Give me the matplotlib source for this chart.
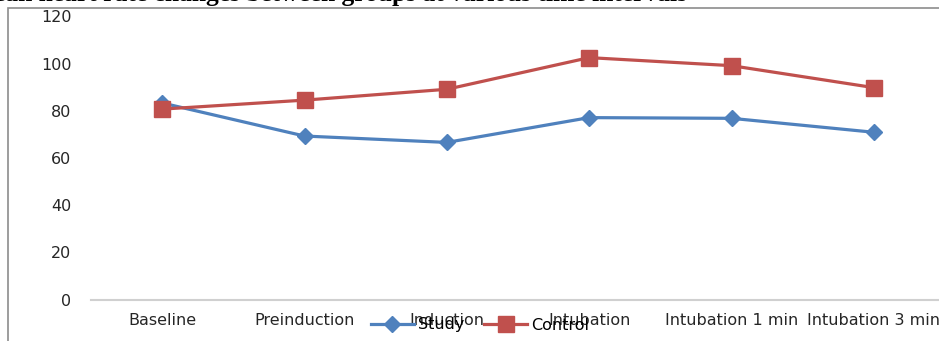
import matplotlib
matplotlib.use("Agg")
import matplotlib.pyplot as plt
from matplotlib.patches import Rectangle

categories = ["Baseline", "Preinduction", "Induction", "Intubation",
              "Intubation 1 min", "Intubation 3 min"]
study = [83.3, 69.3, 66.6, 77.1, 76.8, 70.9]
control = [80.7, 84.5, 89.1, 102.5, 99.1, 89.8]
y_ticks = [0, 20, 40, 60, 80, 100, 120]
title = "Mean heart rate changes between groups at various time intervals"

W, H, DPI = 939, 341, 100
fig = plt.figure(figsize=(W / DPI, H / DPI), dpi=DPI)
plt.rcParams["font.family"] = ["DejaVu Sans"]

# chart frame (extends past the right and bottom edges)
fig.patches.append(Rectangle((8 / W, -0.2), 1.2, (H - 7.5) / H + 0.2,
                             transform=fig.transFigure, fill=False,
                             edgecolor="#8c8c8c", linewidth=1.2))

# caption, mostly above the top edge
fig.text(687 / W, (H - 1.0) / H, title, ha="right", va="baseline",
         fontsize=18.4, fontweight="bold", family="Liberation Serif",
         color="black")

left, right = 91, 945
bottom, top = 299.7, 16.3
ax = fig.add_axes([left / W, (H - bottom) / H, (right - left) / W,
                   (bottom - top) / H])
ax.set_facecolor("none")

x = list(range(len(categories)))
ax.plot(x, study, color="#4F81BD", linewidth=2.3, marker="D",
        markersize=8.5, label="Study", solid_joinstyle="round")
ax.plot(x, control, color="#C0504D", linewidth=2.3, marker="s",
        markersize=11.5, label="Control")

ax.set_xlim(-0.5, len(categories) - 0.5)
ax.set_ylim(0, 120)
ax.set_yticks(y_ticks)
ax.set_xticks(x)
ax.set_xticklabels(categories)
ax.tick_params(axis="both", length=0, labelsize=11.5, colors="#262626")
ax.tick_params(axis="y", pad=14)
ax.tick_params(axis="x", pad=9.5)

for side in ("left", "right", "top"):
    ax.spines[side].set_visible(False)
ax.spines["bottom"].set_color("#d0d0d0")
ax.spines["bottom"].set_linewidth(1.5)

fig.legend(loc="center", bbox_to_anchor=(480 / W, 16 / H), ncol=2,
           frameon=False, fontsize=11.5, handlelength=2.7,
           handletextpad=0.25, columnspacing=1.25)

fig.savefig("out.png", dpi=DPI)
